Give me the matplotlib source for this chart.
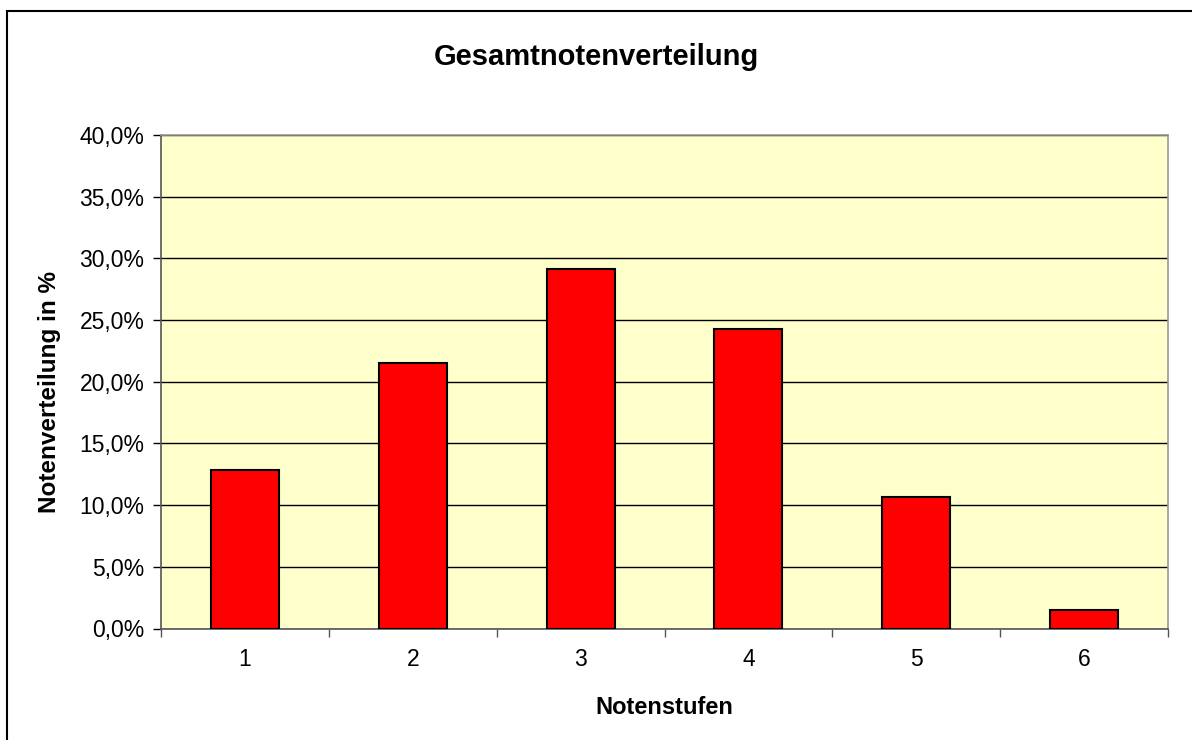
import matplotlib
matplotlib.use("Agg")
import matplotlib.pyplot as plt
import matplotlib.patches as patches
from matplotlib.ticker import FuncFormatter, FixedLocator

plt.rcParams['font.family'] = ['Liberation Sans', 'DejaVu Sans']

# Daten
notenstufen = ["1", "2", "3", "4", "5", "6"]
anteile = [12.84, 21.54, 29.14, 24.27, 10.67, 1.54]
y_ticks = [0, 5, 10, 15, 20, 25, 30, 35, 40]

fig = plt.figure(figsize=(11.92, 7.40), dpi=100, facecolor='white')
ax = fig.add_axes([161/1192, 1 - 628.5/740, (1168-161)/1192, (628.5-135)/740])
ax.set_facecolor('#FFFFCC')

x = list(range(1, len(notenstufen) + 1))
ax.bar(x, anteile, width=0.405, color='#FF0000', edgecolor='black', linewidth=1.5, zorder=3)

ax.set_xlim(0.5, len(notenstufen) + 0.5)
ax.set_ylim(0, 40)
ax.set_yticks(y_ticks)
ax.yaxis.set_major_formatter(FuncFormatter(lambda v, p: f"{v:.1f}%".replace('.', ',')))
ax.yaxis.grid(True, color='black', linewidth=1, zorder=1)
ax.set_axisbelow(True)

ax.set_xticks(x)
ax.set_xticklabels(notenstufen)
ax.xaxis.set_minor_locator(FixedLocator([i + 0.5 for i in range(0, len(notenstufen) + 1)]))
ax.tick_params(axis='x', which='major', length=0, pad=14, labelsize=16.5)
ax.tick_params(axis='x', which='minor', length=6, width=1, color='#555555', direction='out')
ax.tick_params(axis='y', length=6, width=1, color='black', direction='out', labelsize=16.5, pad=6)

for side in ['top', 'right']:
    ax.spines[side].set_color('#999999')
    ax.spines[side].set_linewidth(1.2)
for side in ['left', 'bottom']:
    ax.spines[side].set_color('#555555')
    ax.spines[side].set_linewidth(1.2)

ax.set_xlabel("Notenstufen", fontsize=17, fontweight='bold')
ax.xaxis.set_label_coords(0.5, -(707 - 628.5) / (628.5 - 135), transform=ax.transAxes)
ax.set_ylabel("Notenverteilung in %", fontsize=17.5, fontweight='bold')
ax.yaxis.set_label_coords(-(161 - 49) / (1168 - 161), 0.48, transform=ax.transAxes)
ax.xaxis.label.set_va('center')
ax.yaxis.label.set_va('center')
fig.text(0.5, 1 - 57/740, "Gesamtnotenverteilung", ha='center', va='center', fontsize=21, fontweight='bold')

# Rahmen um das Diagramm (rechts und unten abgeschnitten)
rahmen = patches.Rectangle((7/1192, -0.05), 1.0, 1 - 11/740 + 0.05,
                           transform=fig.transFigure, fill=False, edgecolor='black', linewidth=1.5)
fig.patches.append(rahmen)

plt.savefig("out.png", dpi=100)
plt.close()
